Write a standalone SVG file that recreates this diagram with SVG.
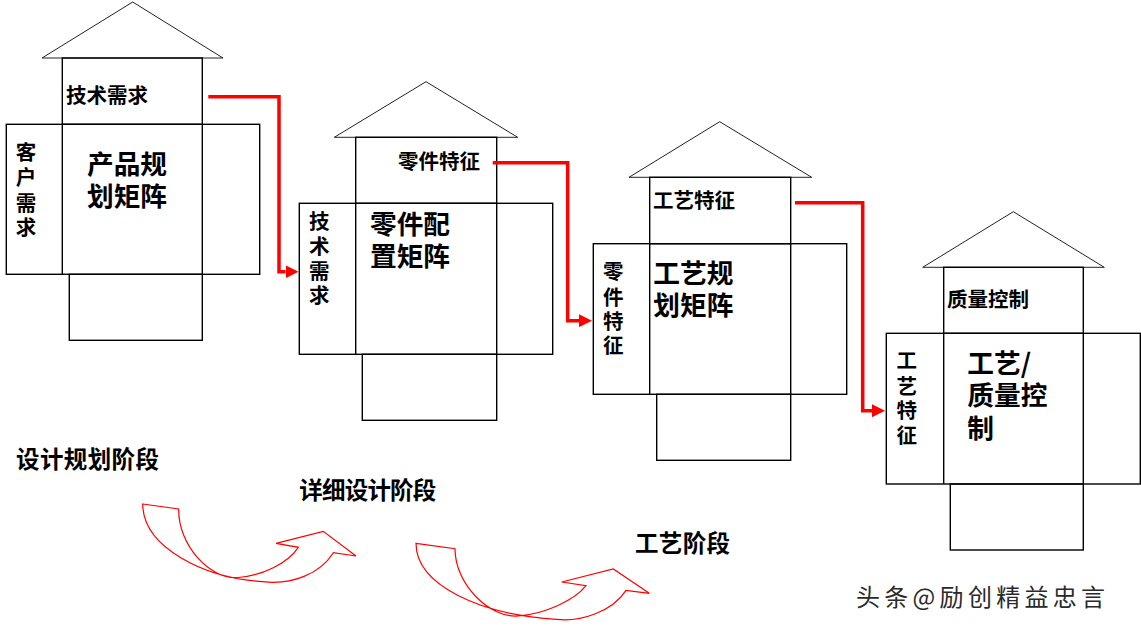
<svg xmlns="http://www.w3.org/2000/svg" width="1141" height="629" viewBox="0 0 1141 629">
<style>
.box{fill:none;stroke:#000;stroke-width:1.4}
.roof{fill:none;stroke:#222;stroke-width:1}
.t{font-family:"Noto Sans CJK SC","Noto Sans",sans-serif;font-weight:bold;fill:#000;dominant-baseline:central}
.s20{font-size:20.5px}
.s26{font-size:26.7px}
.stage{font-size:23.5px}
.v{text-anchor:middle}
.conn{fill:none;stroke:#ff0000;stroke-width:3.5;marker-end:url(#ah)}
.curve{fill:#fff;stroke:#ff0000;stroke-width:1.2;stroke-linejoin:miter}
.wm{font-family:"Noto Sans CJK SC","Noto Sans",sans-serif;font-size:24px;letter-spacing:4.3px;fill:#2a2a2a;dominant-baseline:central}
</style>
<defs>
<marker id="ah" markerUnits="userSpaceOnUse" markerWidth="13" markerHeight="13" refX="0" refY="6.5" orient="auto">
<path d="M0,0 L13,6.5 L0,13 Z" fill="#ff0000"/>
</marker>
</defs>
<rect width="1141" height="629" fill="#fff"/>

<g id="house1">
<polygon class="roof" points="42,58 132.7,2 223,58"/>
<rect class="box" x="62.3" y="58" width="140" height="66.3"/>
<rect class="box" x="6.3" y="124.3" width="253.4" height="150"/>
<line class="box" x1="62.3" y1="124.3" x2="62.3" y2="274.3"/>
<line class="box" x1="202.3" y1="124.3" x2="202.3" y2="274.3"/>
<rect class="box" x="69.3" y="274.3" width="133" height="66"/>
<text class="t s20" x="66" y="94">技术需求</text>
<text class="t s20 v" x="26" y="151">客</text>
<text class="t s20 v" x="26" y="176">户</text>
<text class="t s20 v" x="26" y="201.5">需</text>
<text class="t s20 v" x="26" y="225.5">求</text>
<text class="t s26" x="87" y="162.5">产品规</text>
<text class="t s26" x="87" y="194">划矩阵</text>
</g>

<g id="house2">
<polygon class="roof" points="334.3,137.3 426,81.7 517.7,137.3"/>
<rect class="box" x="355.7" y="137.3" width="141" height="66"/>
<rect class="box" x="299.3" y="203.3" width="253.4" height="151"/>
<line class="box" x1="355.7" y1="203.3" x2="355.7" y2="354.3"/>
<line class="box" x1="496.7" y1="203.3" x2="496.7" y2="354.3"/>
<rect class="box" x="362.3" y="354.3" width="134.4" height="66"/>
<text class="t s20" x="398" y="160">零件特征</text>
<text class="t s20 v" x="319.3" y="220">技</text>
<text class="t s20 v" x="319.3" y="244.5">术</text>
<text class="t s20 v" x="319.3" y="270">需</text>
<text class="t s20 v" x="319.3" y="294">求</text>
<text class="t s26" x="370" y="222.7">零件配</text>
<text class="t s26" x="370" y="254">置矩阵</text>
</g>

<g id="house3">
<polygon class="roof" points="629,177.3 719.7,121.7 811.7,177.3"/>
<rect class="box" x="649.7" y="177.3" width="141" height="66.4"/>
<rect class="box" x="593.3" y="243.7" width="253.4" height="150.6"/>
<line class="box" x1="649.7" y1="243.7" x2="649.7" y2="394.3"/>
<line class="box" x1="790.7" y1="243.7" x2="790.7" y2="394.3"/>
<rect class="box" x="656.7" y="394.3" width="134" height="66"/>
<text class="t s20" x="653" y="199.3">工艺特征</text>
<text class="t s20 v" x="613.3" y="270">零</text>
<text class="t s20 v" x="613.3" y="296">件</text>
<text class="t s20 v" x="613.3" y="320">特</text>
<text class="t s20 v" x="613.3" y="344">征</text>
<text class="t s26" x="653.3" y="271.7">工艺规</text>
<text class="t s26" x="653.3" y="303.3">划矩阵</text>
</g>

<g id="house4">
<polygon class="roof" points="922.7,267.3 1013.3,211.7 1104.3,267.3"/>
<rect class="box" x="943.7" y="267.3" width="139.6" height="66"/>
<rect class="box" x="886.3" y="333.3" width="254" height="150.7"/>
<line class="box" x1="943.7" y1="333.3" x2="943.7" y2="484"/>
<line class="box" x1="1083.3" y1="333.3" x2="1083.3" y2="484"/>
<rect class="box" x="950.3" y="484" width="133" height="66"/>
<text class="t s20" x="947" y="298.3">质量控制</text>
<text class="t s20 v" x="906.7" y="359">工</text>
<text class="t s20 v" x="906.7" y="385">艺</text>
<text class="t s20 v" x="906.7" y="408.5">特</text>
<text class="t s20 v" x="906.7" y="434">征</text>
<text class="t s26" x="967.3" y="361.7">工艺/</text>
<text class="t s26" x="967.3" y="393.3">质量控</text>
<text class="t s26" x="967.3" y="426.7">制</text>
</g>

<g id="connectors">
<polyline class="conn" points="208.3,96.7 279,96.7 279,271.7 285.5,271.7"/>
<polyline class="conn" points="492.7,162.7 567.7,162.7 567.7,320.7 579,320.7"/>
<polyline class="conn" points="795,202.7 862.7,202.7 862.7,410.7 872,410.7"/>
</g>

<g id="stage-arrows">
<path class="curve" d="M142.7,504 L178.7,509 C178,545 210,580 238,577.5 C262,576 288,563 298.3,547.3 L276,543.3 L323.3,531.3 L356,556 L333.3,552.7 C320,574 292,585 263,581.7 C205,578 143,548 142.7,504 Z"/>
<path class="curve" d="M416,543.3 L455,548.7 C455,585 490,618 518,616 C545,614 575,600 586,585.7 L561.7,582 L613.3,569 L649.3,593.3 L626,590.3 C612,612 580,622 556.7,619.3 C480,615 416,585 416,543.3 Z"/>
</g>

<g id="stage-labels">
<text class="t stage" x="16" y="458.3" textLength="143">设计规划阶段</text>
<text class="t stage" x="299.3" y="488.5" textLength="137">详细设计阶段</text>
<text class="t stage" x="635" y="541.5" textLength="95">工艺阶段</text>
</g>

<text class="wm" x="856" y="595.3">头条@励创精益忠言</text>
</svg>
